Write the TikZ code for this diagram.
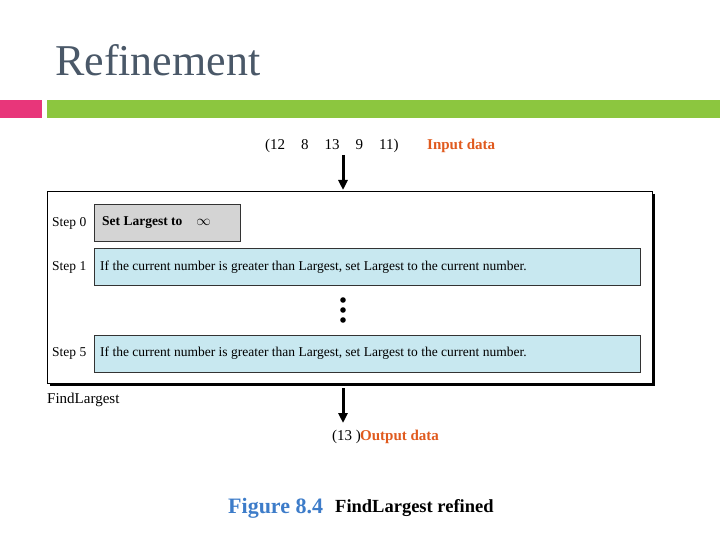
\documentclass[tikz,border=0pt]{standalone}
\usepackage{fontspec}
\setmainfont{Liberation Serif}
\usetikzlibrary{arrows.meta}
\begin{document}
\begin{tikzpicture}[x=1pt,y=-1pt,
  lbl/.style={anchor=west,font=\fontsize{13.5}{15}\selectfont,inner sep=0},
  stepbox/.style={draw=black!80,line width=0.8pt,fill=#1,anchor=north west,inner sep=0},
  arr/.style={-{Triangle[length=10pt,width=9pt]},line width=3pt}]
\definecolor{titlec}{HTML}{4A5868}
\definecolor{pinkc}{HTML}{E8367A}
\definecolor{greenc}{HTML}{8CC63F}
\definecolor{orangec}{HTML}{E05A1E}
\definecolor{bluec}{HTML}{C8E8F0}
\definecolor{figc}{HTML}{3D7CC9}
\useasboundingbox (0,0) rectangle (720,540);
\node[anchor=west,inner sep=0,text=titlec,font=\fontsize{44}{50}\selectfont] (title) at (55,60) {Refinement};
\fill[pinkc] (0,100) rectangle (42,118);
\fill[greenc] (47,100) rectangle (720,118);
\node[anchor=west,inner sep=0,font=\fontsize{15}{17}\selectfont] (in) at (265,146) {(12\hspace{16pt}8\hspace{16pt}13\hspace{16pt}9\hspace{16pt}11)};
\node[anchor=west,inner sep=0,font=\bfseries\fontsize{15}{17}\selectfont,text=orangec] (indata) at (427,146) {Input data};
\coordinate (a1) at (343,155);
\fill[black] (50,194) rectangle (655,386);
\node[draw,fill=white,line width=0.8pt,minimum width=605pt,minimum height=192pt,anchor=north west,inner sep=0] (outer) at (47,191) {};
\draw[arr] (a1) -- (343,190);
\node[stepbox=black!17,minimum width=146pt,minimum height=37pt] (s0) at (94,204) {};
\node[lbl,font=\bfseries\fontsize{13.5}{15}\selectfont] at (102,223) {Set Largest to\hspace{14pt}$\infty$};
\node[stepbox=bluec,minimum width=546pt,minimum height=37pt] (s1) at (94,248) {};
\node[lbl] at (100,267) {If the current number is greater than Largest, set Largest to the current number.};
\node[stepbox=bluec,minimum width=546pt,minimum height=37pt] (s5) at (94,335) {};
\node[lbl] at (100,353) {If the current number is greater than Largest, set Largest to the current number.};
\node[lbl] (l0) at (52,223) {Step 0};
\node[lbl] (l1) at (52,267) {Step 1};
\node[lbl] (l5) at (52,353) {Step 5};
\foreach \y in {300,310,320} \fill (343,\y) circle (2.8pt);
\node[lbl,font=\fontsize{15}{17}\selectfont] (fl) at (47,400) {FindLargest};
\coordinate (a2) at (343,388);
\coordinate (a3) at (343,423);
\draw[arr] (a2) -- (a3);
\node[anchor=west,inner sep=0,font=\fontsize{15}{17}\selectfont] (out) at (332,437) {(13 )};
\node[anchor=west,inner sep=0,font=\bfseries\fontsize{15}{17}\selectfont,text=orangec] (outdata) at (360,437) {Output data};
\node[anchor=west,inner sep=0,font=\bfseries\fontsize{22}{24}\selectfont,text=figc] (fig) at (228,508) {Figure 8.4};
\node[anchor=west,inner sep=0,font=\bfseries\fontsize{18.5}{21}\selectfont] (cap) at (335,508) {FindLargest refined};
\end{tikzpicture}
\end{document}
